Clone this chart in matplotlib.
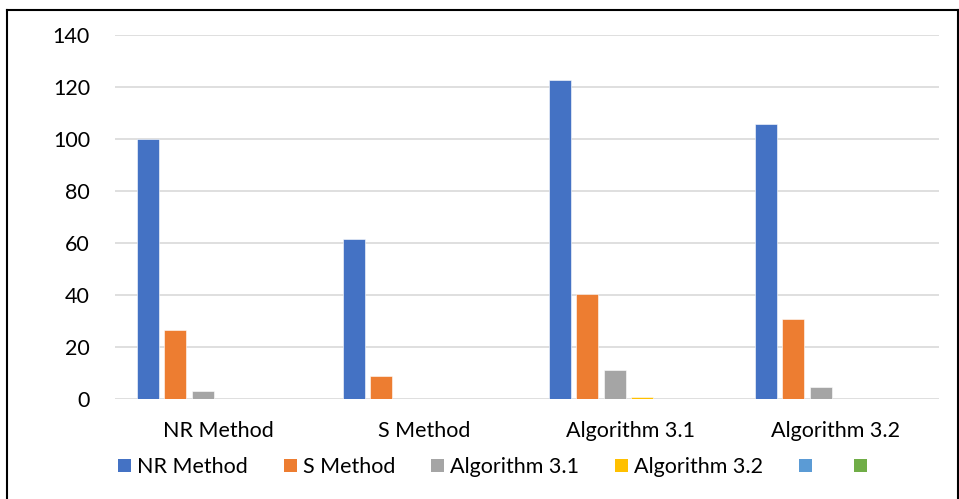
import numpy as np
from matplotlib import pyplot as plt
from matplotlib.lines import Line2D
from matplotlib.patches import Patch

categories = ["NR Method", "S Method", "Algorithm 3.1", "Algorithm 3.2"]
series_names = ["NR Method", "S Method", "Algorithm 3.1", "Algorithm 3.2", "", ""]
nr_method = [100, 61.4, 122.6, 105.8]
s_method = [26.6, 8.8, 40.3, 30.6]
algorithm_31 = [2.9, 0, 11.1, 4.6]
algorithm_32 = [0, 0, 0.8, 0]
series5 = [0, 0, 0, 0]
series6 = [0, 0, 0, 0]
colors = ["#4472C4", "#ED7D31", "#A5A5A5", "#FFC000", "#5B9BD5", "#70AD47"]

plt.rcParams['font.family'] = ['Lato', 'DejaVu Sans']

fig = plt.figure(figsize=(9.59, 4.99), dpi=100)
ax = fig.add_axes([115 / 959, 1 - 399 / 499, (939 - 115) / 959, (399 - 35) / 499])

all_series = [nr_method, s_method, algorithm_31, algorithm_32, series5, series6]
x = np.arange(len(categories))
slot = 27.5 / 206
width = 21.6 / 206
for i, vals in enumerate(all_series):
    ax.bar(x + (i - 2.5) * slot - 1.5 / 206, vals, width, color=colors[i],
           edgecolor="white", linewidth=0.4, zorder=3)

fs = 15.5
ax.set_xlim(-0.5, 3.5)
ax.set_ylim(0, 140)
ax.set_yticks(range(0, 141, 20))
ax.set_xticks(x)
ax.set_xticklabels(categories, fontsize=fs)
ax.tick_params(axis='y', labelsize=fs, length=0, pad=18)
ax.tick_params(axis='x', length=0, pad=16)
ax.grid(axis='y', color="#D9D9D9", linewidth=1.2, zorder=0)
for s in ax.spines.values():
    s.set_visible(False)

handles = [Patch(facecolor=c) for c in colors]
fig.legend(handles, series_names, loc="center left", bbox_to_anchor=(118 / 959, 1 - 467 / 499),
           ncol=6, frameon=False, fontsize=fs, handlelength=0.6, handleheight=0.6,
           handletextpad=0.3, columnspacing=1.65, borderaxespad=0, borderpad=0)

# outer chart frame
fig.add_artist(Line2D([7 / 959, 7 / 959], [0, 1 - 10 / 499], color="black", lw=1.5, transform=fig.transFigure))
fig.add_artist(Line2D([7 / 959, 958 / 959], [1 - 10 / 499, 1 - 10 / 499], color="black", lw=1.5, transform=fig.transFigure))
fig.add_artist(Line2D([958 / 959, 958 / 959], [0, 1 - 10 / 499], color="black", lw=1.5, transform=fig.transFigure))

fig.savefig("out.png", dpi=100)
